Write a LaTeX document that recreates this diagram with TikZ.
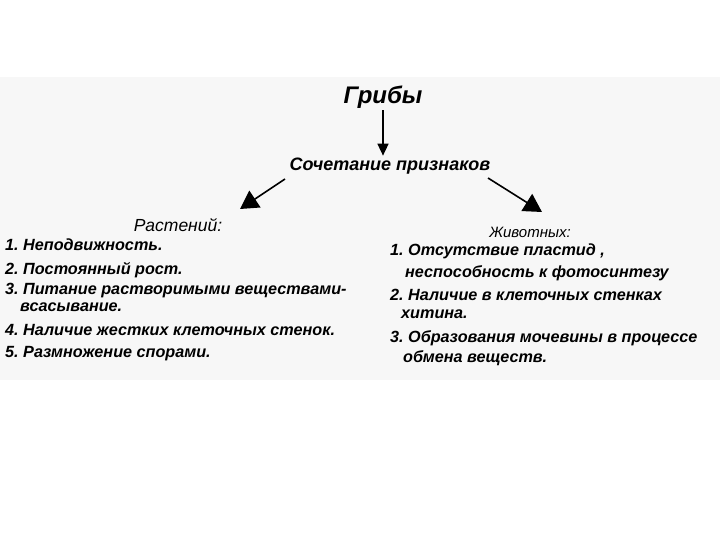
\documentclass[tikz,border=0pt]{standalone}
\usepackage{fontspec}
\setmainfont{Liberation Sans}
\usetikzlibrary{arrows.meta}
\frenchspacing
\tikzset{
  item/.style={anchor=base west, inner sep=0pt, font=\bfseries\itshape\fontsize{16.2}{18}\selectfont},
  head/.style={anchor=base, inner sep=0pt, font=\itshape\fontsize{15}{17}\selectfont},
  arr/.style={line width=1.6pt, -{Triangle[length=18pt,width=20pt]}},
  varr/.style={line width=1.6pt, -{Triangle[length=12pt,width=11pt]}}
}
\begin{document}
\begin{tikzpicture}[x=1pt,y=-1pt]
\useasboundingbox (0,0) rectangle (720,540);
\fill[gray!6] (0,77) rectangle (720,380);
\node[inner sep=2pt, font=\bfseries\itshape\fontsize{24}{26}\selectfont] (griby) at (383,97) {Грибы};
\node[inner sep=2pt, font=\bfseries\itshape\fontsize{18}{20}\selectfont] (soch) at (390,166) {Сочетание признаков};
\draw[varr] (griby.south) -- (griby.south |- soch.north);
\coordinate (lstart) at (285,179);
\coordinate (ltip) at (240,209);
\coordinate (rstart) at (488,178);
\coordinate (rtip) at (542,212);
\draw[arr] (lstart) -- (ltip);
\draw[arr] (rstart) -- (rtip);
% left column
\node[head, font=\itshape\fontsize{17.5}{19}\selectfont] (rast) at (178,231) {Растений:};
\node[item] (l1) at (5,251) {1. Неподвижность.};
\node[item] (l2) at (5,274) {2. Постоянный рост.};
\node[item] (l3) at (5,294) {3. Питание растворимыми веществами-};
\node[item] (l3b) at (20,311) {всасывание.};
\node[item] (l4) at (5,335) {4. Наличие жестких клеточных стенок.};
\node[item] (l5) at (5,357) {5. Размножение спорами.};
% right column
\node[head] (zhiv) at (530,237) {Животных:};
\node[item] (r1) at (390,255) {1. Отсутствие пластид ,};
\node[item] (r1b) at (405,277) {неспособность к фотосинтезу};
\node[item] (r2) at (390,300) {2. Наличие в клеточных стенках};
\node[item] (r2b) at (401,318) {хитина.};
\node[item] (r3) at (390,342) {3. Образования мочевины в процессе};
\node[item] (r3b) at (403,362) {обмена веществ.};
\end{tikzpicture}
\end{document}
